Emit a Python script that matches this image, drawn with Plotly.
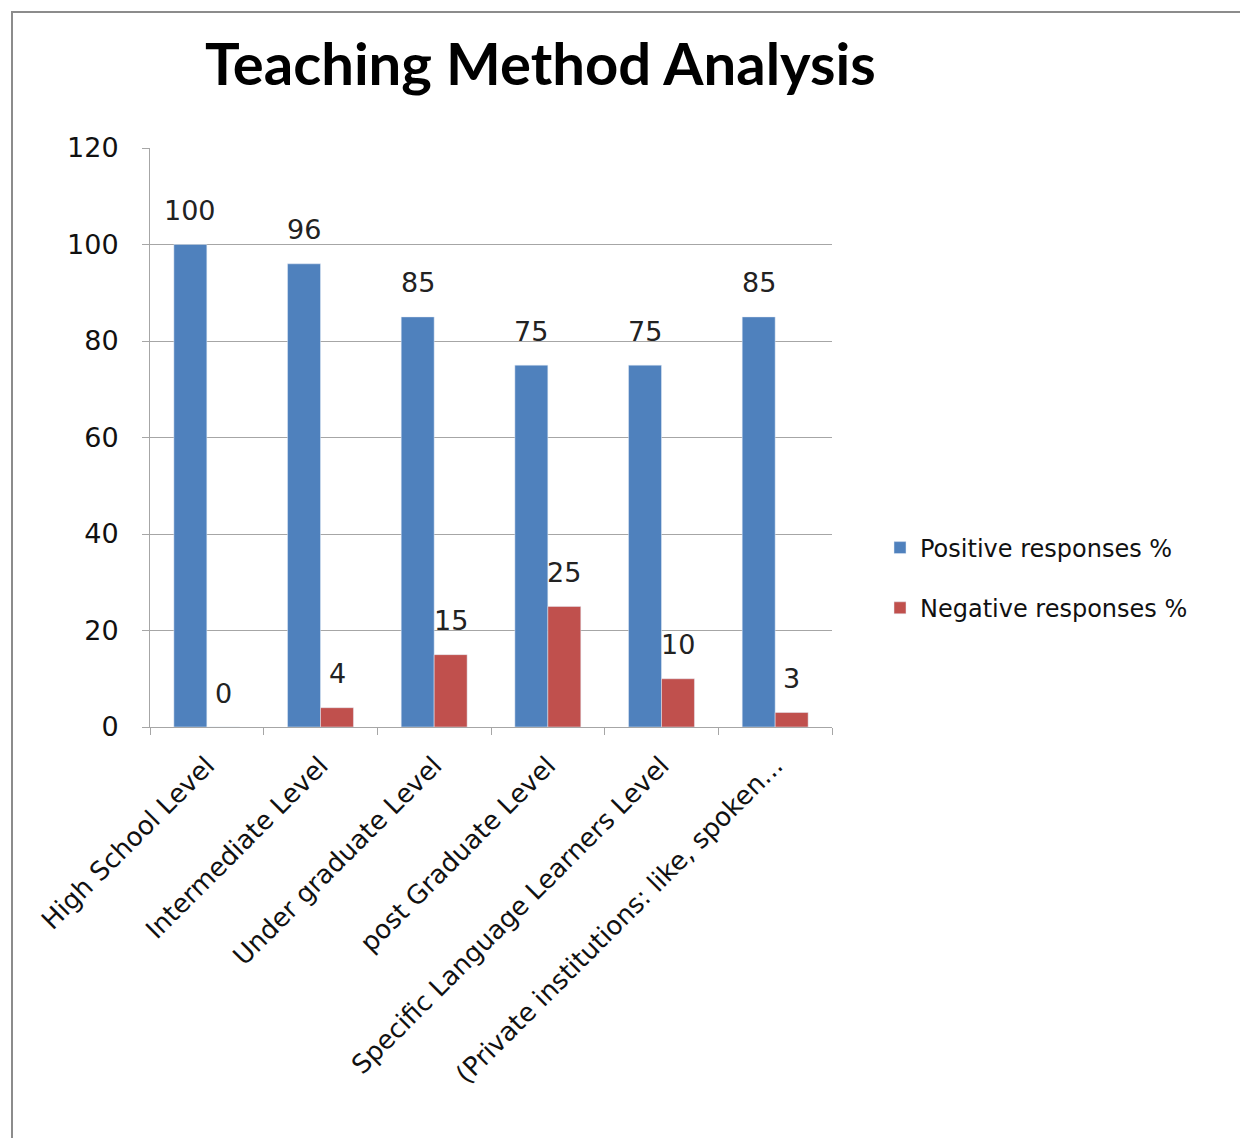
import plotly.graph_objects as go

categories = ["High School Level", "Intermediate Level", "Under graduate Level",
              "post Graduate Level", "Specific Language Learners Level",
              "(Private institutions: like, spoken..."]
positive = [100, 96, 85, 75, 75, 85]
negative = [0, 4, 15, 25, 10, 3]
y_ticks = [0, 20, 40, 60, 80, 100, 120]

W, H = 1248, 1138
OFF = 8  # page body margin
L, R, T, B = 150 - OFF, 832 - OFF, 148 - OFF, 727 - OFF  # plot area in figure coords

def px(x):
    return (x - OFF - L) / (R - L)

def py(y):
    return (B - (y - OFF)) / (B - T)

body = "DejaVu Sans"
fig = go.Figure()
fig.add_trace(go.Bar(x=categories, y=positive, name="Positive responses %",
                     legendgroup="pos", marker_color="#4f81bd"))
fig.add_trace(go.Bar(x=categories, y=negative, name="Negative responses %",
                     legendgroup="neg", marker_color="#c0504d"))

bar_half = 16.5  # pixel offset of each bar centre from the category centre
for series, shift in ((positive, -bar_half), (negative, bar_half)):
    for cat, val in zip(categories, series):
        fig.add_annotation(x=cat, y=val, xref="x", yref="y", text=str(val),
                           showarrow=False, xshift=shift, yshift=34,
                           xanchor="center", yanchor="middle",
                           font=dict(family=body, size=27, color="#222"))

fig.update_layout(
    width=W, height=H,
    margin=dict(l=L, r=W - R, t=T, b=H - B),
    paper_bgcolor="white", plot_bgcolor="white",
    barmode="group", bargap=0.42, bargroupgap=0,
    font=dict(family=body, size=25, color="#111"),
    showlegend=True,
    legend=dict(x=px(880), y=py(578), xanchor="left", yanchor="middle",
                font=dict(size=24, color="#111"), tracegroupgap=26,
                itemwidth=30, bgcolor="rgba(0,0,0,0)"),
)
fig.update_yaxes(range=[0, 120], tickvals=y_ticks, showgrid=True, gridcolor="#a6a6a6",
                 gridwidth=1, showline=True, linecolor="#a6a6a6", ticks="outside",
                 ticklen=7, tickcolor="#a6a6a6", tickfont=dict(size=27, color="#111"),
                 ticklabelstandoff=18, zeroline=False)
fig.update_xaxes(tickangle=-45, showline=True, linecolor="#a6a6a6", ticks="outside",
                 tickson="boundaries", ticklen=7, tickcolor="#a6a6a6",
                 ticklabelstandoff=12, tickfont=dict(size=26, color="#111"))

fig.add_annotation(text="<b>Teaching Method Analysis</b>", xref="paper", yref="paper",
                   x=px(540), y=py(62), xanchor="center", yanchor="middle",
                   showarrow=False, font=dict(family="Lato", size=58, color="black"))

fig.add_shape(type="rect", xref="paper", yref="paper",
              x0=px(12), y0=py(12), x1=px(W + 40), y1=py(H + 40),
              line=dict(color="#8c8c8c", width=2), layer="below")

fig.write_html("out.html")
